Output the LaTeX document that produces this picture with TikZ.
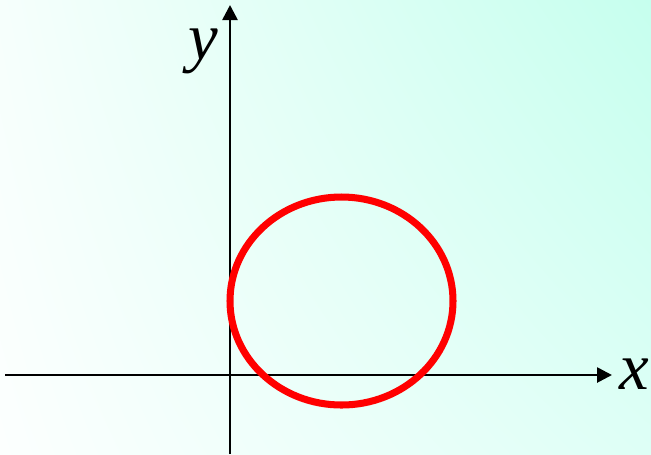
\documentclass[tikz,border=0pt]{standalone}
\usepackage{fontspec}
\setmainfont{Liberation Serif}
\usetikzlibrary{arrows.meta,shadings}
\definecolor{bgul}{RGB}{246,255,252}
\definecolor{bgur}{RGB}{198,255,238}
\definecolor{bgll}{RGB}{252,255,254}
\definecolor{bglr}{RGB}{222,255,246}

\begin{document}
\begin{tikzpicture}[x=0.02cm,y=-0.02cm]
    % Styles for axes, labels and the curve
    \tikzset{
      axis/.style={line width=1.5pt,-{Triangle[length=0.3cm,width=0.3cm]}},
      axislabel/.style={inner sep=0pt,font=\fontsize{38}{38}\selectfont\itshape},
      curve/.style={draw=red,line width=4pt}
    }

    % Background
    \shade[upper left=bgul,upper right=bgur,lower left=bgll,lower right=bglr]
      (0,0) rectangle (651,454);
    \useasboundingbox (0,0) rectangle (651,454);

    % Axis ends
    \coordinate (xstart) at (5,375);
    \coordinate (xend) at (612,375);
    \coordinate (ystart) at (230,454);
    \coordinate (yend) at (230,5);

    % Labels
    \node[axislabel] (xlab) at (634,374) {x};
    \node[axislabel] (ylab) at (203,51) {y};

    % Axes
    \draw[axis] (xstart) -- (xend);
    \draw[axis] (ystart) -- (yend);

    % Circle
    \coordinate (centre) at (341.5,301);
    \draw[curve] (centre) ellipse [x radius=111.5, y radius=104];

\end{tikzpicture}
\end{document}
